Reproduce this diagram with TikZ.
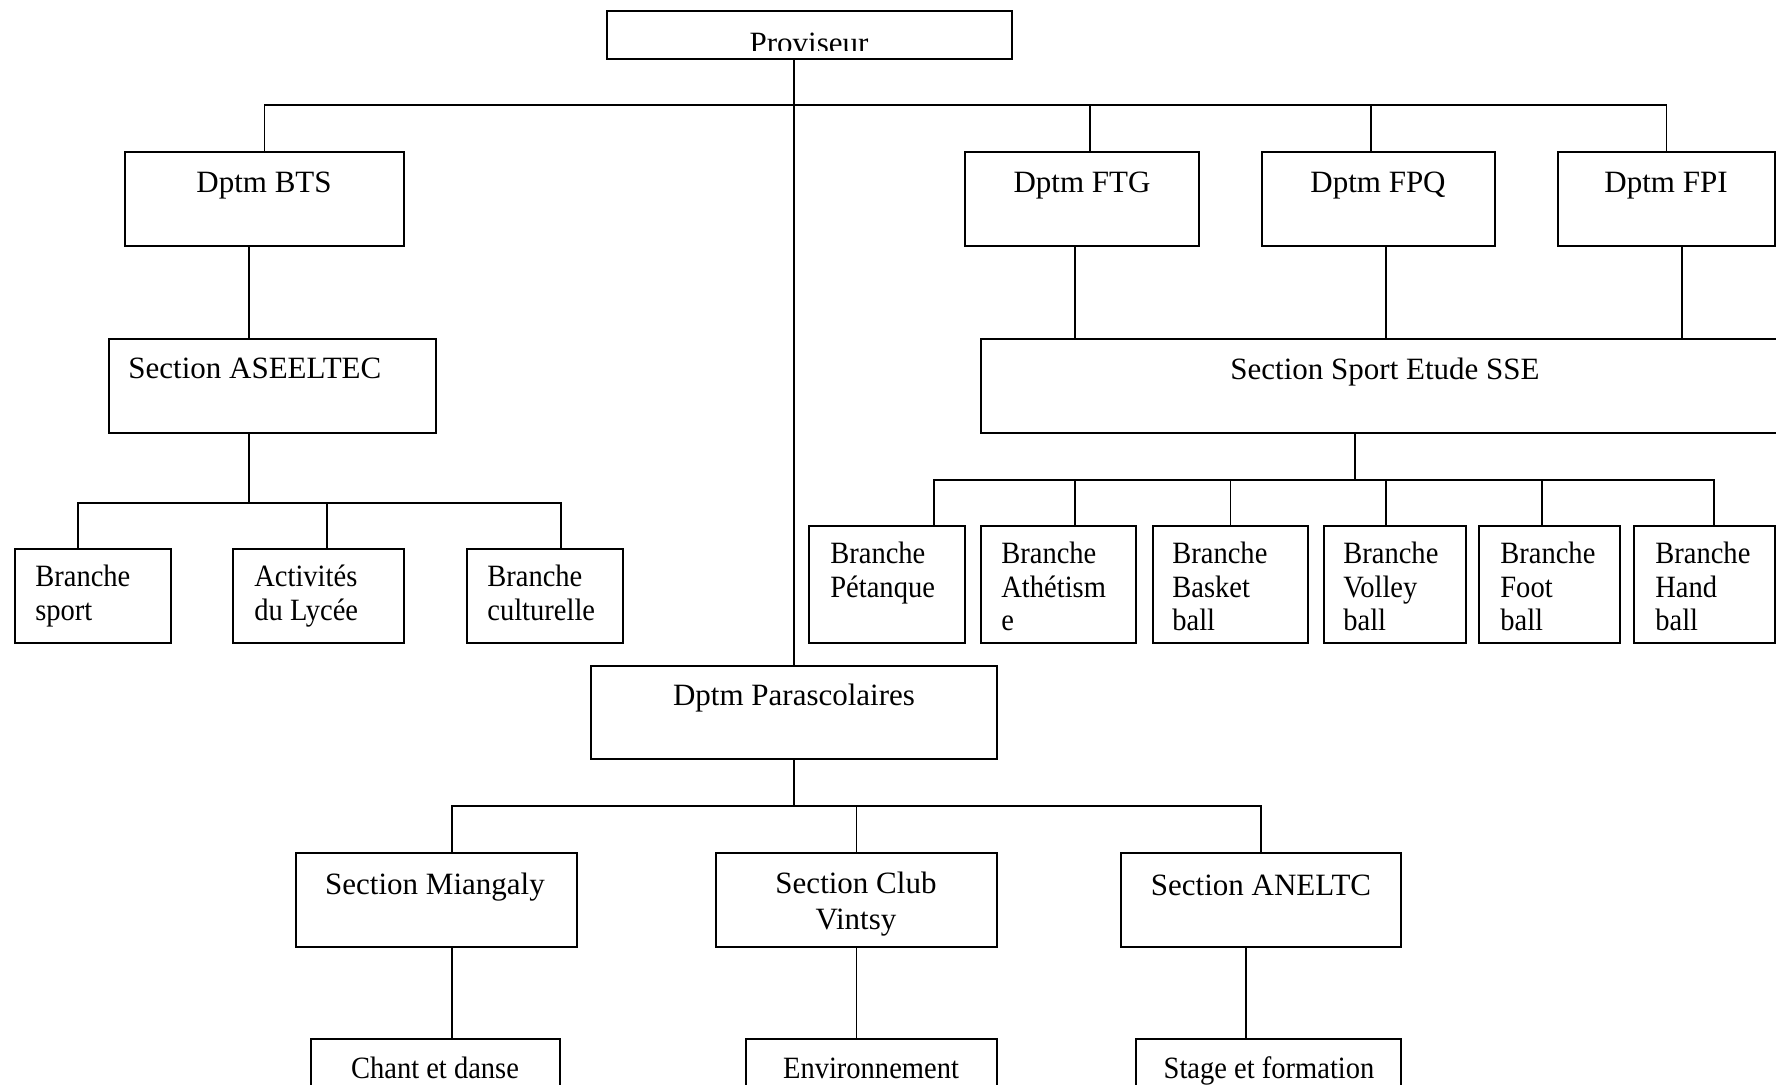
\documentclass[tikz,border=0pt]{standalone}
\usepackage{fontspec}
\setmainfont{Liberation Serif}
\usetikzlibrary{fit}
\newcommand\orgfont{\fontsize{15.5}{16.7}\selectfont}

\begin{document}
\begin{tikzpicture}[x=0.5pt,y=-0.5pt]
\tikzstyle{box}=[draw, rectangle, inner sep=0pt, line width=1pt]
\tikzstyle{txt}=[inner sep=0pt, font=\orgfont]
\tikzstyle{narrow}=[xscale=0.92, transform shape]
\tikzstyle{wire}=[line width=0.75pt]
\useasboundingbox (0,0) rectangle (1776,1084);
\clip (0,0) rectangle (1776,1084);
\node (prov) [box, fit={(607,11) (1012,59)}] {};
\node (bts) [box, fit={(125,152) (404,246)}] {};
\node (ftg) [box, fit={(965,152) (1199,246)}] {};
\node (fpq) [box, fit={(1262,152) (1495,246)}] {};
\node (fpi) [box, fit={(1558,152) (1775,246)}] {};
\node (asel) [box, fit={(109,339) (436,433)}] {};
\node (sse) [box, fit={(981,339) (1800,433)}] {};
\node (bsport) [box, fit={(15,549) (171,643)}] {};
\node (blycee) [box, fit={(233,549) (404,643)}] {};
\node (bcult) [box, fit={(467,549) (623,643)}] {};
\node (bpet) [box, fit={(809,526) (965,643)}] {};
\node (bath) [box, fit={(981,526) (1136,643)}] {};
\node (bbask) [box, fit={(1153,526) (1308,643)}] {};
\node (bvol) [box, fit={(1324,526) (1466,643)}] {};
\node (bfoot) [box, fit={(1479,526) (1620,643)}] {};
\node (bhand) [box, fit={(1634,526) (1775,643)}] {};
\node (para) [box, fit={(591,666) (997,759)}] {};
\node (smia) [box, fit={(296,853) (577,947)}] {};
\node (sclub) [box, fit={(716,853) (997,947)}] {};
\node (sanel) [box, fit={(1121,853) (1401,947)}] {};
\node (chant) [box, fit={(311,1039) (560,1100)}] {};
\node (envi) [box, fit={(746,1039) (997,1100)}] {};
\node (stage) [box, fit={(1136,1039) (1401,1100)}] {};
\coordinate (bar1) at (794,105);
\coordinate (j1) at (249,503);
\coordinate (bar3) at (1355,480);
\coordinate (bar4) at (794,806);
\begin{scope}
\clip (prov.north west) rectangle ([yshift=5pt]prov.south east);
\node (prov-t) [txt, anchor=north] at (809,33) {Proviseur};
\end{scope}
\node (bts-t) [txt, anchor=north] at (264,172) {Dptm BTS};
\node (ftg-t) [txt, anchor=north] at (1082,172) {Dptm FTG};
\node (fpq-t) [txt, anchor=north] at (1378,172) {Dptm FPQ};
\node (fpi-t) [txt, anchor=north] at (1666,172) {Dptm FPI};
\node (asel-t) [txt, anchor=north west] at (128,358) {Section ASEELTEC};
\node (sse-t) [txt, anchor=north] at (1385,358) {Section Sport Etude SSE};
\node (bsport-t) [txt, narrow, anchor=north west, align=left] at (35,565) {Branche\\sport};
\node (blycee-t) [txt, narrow, anchor=north west, align=left] at (254,565) {Activités\\du Lycée};
\node (bcult-t) [txt, narrow, anchor=north west, align=left] at (487,565) {Branche\\culturelle};
\node (bpet-t) [txt, narrow, anchor=north west, align=left] at (830,542) {Branche\\Pétanque};
\node (bath-t) [txt, narrow, anchor=north west, align=left] at (1001,542) {Branche\\Athétism\\e};
\node (bbask-t) [txt, narrow, anchor=north west, align=left] at (1172,542) {Branche\\Basket\\ball};
\node (bvol-t) [txt, narrow, anchor=north west, align=left] at (1343,542) {Branche\\Volley\\ball};
\node (bfoot-t) [txt, narrow, anchor=north west, align=left] at (1500,542) {Branche\\Foot\\ball};
\node (bhand-t) [txt, narrow, anchor=north west, align=left] at (1655,542) {Branche\\Hand\\ball};
\node (para-t) [txt, anchor=north] at (794,684) {Dptm Parascolaires};
\node (smia-t) [txt, anchor=north] at (435,873) {Section Miangaly};
\node (sclub-t) [txt, anchor=north, align=center, font=\fontsize{15.5}{18}\selectfont] at (856,872) {Section Club\\Vintsy};
\node (sanel-t) [txt, anchor=north] at (1261,875) {Section ANELTC};
\node (chant-t) [txt, narrow, anchor=north] at (435,1057) {Chant et danse};
\node (envi-t) [txt, narrow, anchor=north] at (871,1058) {Environnement};
\node (stage-t) [txt, narrow, anchor=north] at (1269,1056) {Stage et formation};
\draw[wire] (prov.south -| para.north) -- (para.north);
\draw[wire] (bts.north) |- (fpi.north |- bar1) -- (fpi.north);
\draw[wire] ([xshift=4pt]ftg.north) -- ([xshift=4pt]ftg.north |- bar1);
\draw[wire] ([xshift=-3.75pt]fpq.north) -- ([xshift=-3.75pt]fpq.north |- bar1);
\draw[wire] (bts.south -| j1) -- (asel.north -| j1);
\draw[wire] (asel.south -| j1) -- (j1);
\draw[wire] ([xshift=-7.5pt]bsport.north) |- ([xshift=8pt]bcult.north |- j1) -- ([xshift=8pt]bcult.north);
\draw[wire] ([xshift=4.25pt]blycee.north) -- ([xshift=4.25pt]blycee.north |- j1);
\draw[wire] ([xshift=-3.5pt]ftg.south) -- ([xshift=-3.5pt]ftg.south |- sse.north);
\draw[wire] ([xshift=3.75pt]fpq.south) -- ([xshift=3.75pt]fpq.south |- sse.north);
\draw[wire] ([xshift=7.75pt]fpi.south) -- ([xshift=7.75pt]fpi.south |- sse.north);
\draw[wire] (sse.south -| bar3) -- (bar3);
\draw[wire] ([xshift=23.5pt]bpet.north) |- ([xshift=4.75pt]bhand.north |- bar3) -- ([xshift=4.75pt]bhand.north);
\draw[wire] ([xshift=8.25pt]bath.north) -- ([xshift=8.25pt]bath.north |- bar3);
\draw[wire] (bbask.north) -- (bbask.north |- bar3);
\draw[wire] ([xshift=-4.5pt]bvol.north) -- ([xshift=-4.5pt]bvol.north |- bar3);
\draw[wire] ([xshift=-3.75pt]bfoot.north) -- ([xshift=-3.75pt]bfoot.north |- bar3);
\draw[wire] (para.south) -- (bar4);
\draw[wire] ([xshift=7.75pt]smia.north) |- (sanel.north |- bar4) -- (sanel.north);
\draw[wire] (sclub.north) -- (sclub.north |- bar4);
\draw[wire] ([xshift=7.75pt]smia.south) -- ([xshift=7.75pt]smia.south |- chant.north);
\draw[wire] (sclub.south) -- (sclub.south |- envi.north);
\draw[wire] ([xshift=-7.5pt]sanel.south) -- ([xshift=-7.5pt]sanel.south |- stage.north);
\end{tikzpicture}
\end{document}
